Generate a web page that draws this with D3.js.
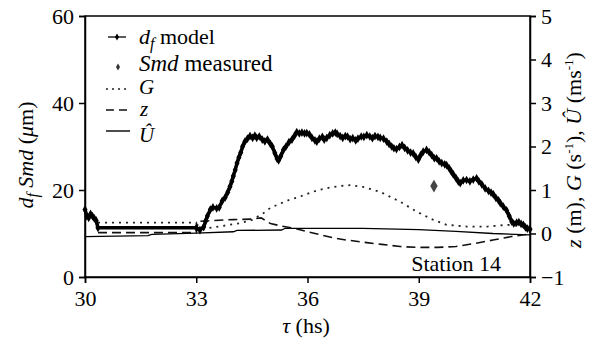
<!DOCTYPE html>
<html><head><meta charset="utf-8">
<script src="https://cdn.jsdelivr.net/npm/d3@7"></script>
<style>
body{margin:0;background:#fff;font-family:'Times New Roman';}
</style></head><body>
<svg id="chart" width="591" height="339" style="font-family:'Times New Roman'"></svg>
<script>
// ---- data ----
const xTicks = [30, 33, 36, 39, 42];
const leftTicks = [0, 20, 40, 60];
const rightTicks = [-1, 0, 1, 2, 3, 4, 5];

const dfTau = [30.00,30.05,30.10,30.15,30.20,30.25,30.30,30.35,33.00,33.10,33.20,33.25,33.30,33.38,33.45,33.55,33.62,33.70,33.78,33.85,33.91,33.96,34.00,34.05,34.10,34.15,34.20,34.25,34.31,34.38,34.45,34.52,34.58,34.63,34.70,34.78,34.85,34.92,35.00,35.05,35.12,35.18,35.22,35.28,35.35,35.42,35.50,35.58,35.65,35.71,35.78,35.85,35.92,35.98,36.05,36.12,36.20,36.25,36.32,36.40,36.45,36.52,36.60,36.68,36.75,36.80,36.88,36.95,37.02,37.08,37.15,37.22,37.30,37.36,37.45,37.52,37.60,37.68,37.75,37.82,37.90,37.96,38.05,38.14,38.20,38.27,38.33,38.40,38.48,38.55,38.62,38.70,38.78,38.85,38.92,38.99,39.05,39.12,39.21,39.28,39.35,39.42,39.48,39.55,39.62,39.70,39.75,39.82,39.88,39.93,40.00,40.07,40.12,40.20,40.29,40.38,40.47,40.56,40.62,40.70,40.79,40.88,40.95,41.01,41.08,41.15,41.20,41.28,41.37,41.44,41.51,41.56,41.64,41.70,41.76,41.82,41.88,41.93,42.00];
const dfVal = [15.5,14.0,13.6,14.5,14.0,13.5,13.0,11.3,11.3,10.8,11.5,12.8,14.0,15.5,16.0,15.8,16.0,17.5,18.3,19.5,20.8,22.0,23.2,24.6,26.2,27.5,28.6,30.0,31.1,31.8,32.4,32.0,32.5,32.0,32.3,31.6,31.2,31.6,30.6,30.0,28.5,27.2,26.8,27.8,29.2,30.0,31.0,31.6,32.5,33.3,33.0,33.2,33.0,33.1,32.8,32.0,31.4,31.1,31.8,32.2,31.6,32.0,32.6,33.0,33.2,32.9,32.4,32.0,32.4,32.3,31.7,31.9,31.4,31.8,32.3,32.2,32.6,32.3,31.9,32.4,32.2,32.0,31.8,31.1,30.6,30.0,29.6,29.4,29.9,30.3,29.7,29.1,28.6,28.4,27.6,27.0,28.0,28.8,29.2,28.7,28.0,27.3,27.3,26.6,26.2,25.9,25.7,25.0,24.2,23.6,22.8,21.9,21.6,22.2,22.3,22.0,22.4,22.7,22.0,21.3,20.4,19.8,19.4,19.0,18.2,17.6,17.0,16.2,15.3,14.0,12.7,12.3,12.5,12.6,12.2,12.0,11.4,11.1,11.0];

const smdTau = [39.41];
const smdVal = [20.9];

const gTau = [30.35,33.00,33.05,33.30,33.60,33.90,34.20,34.50,34.80,35.00,35.30,35.50,35.80,36.15,36.50,36.85,37.15,37.50,37.95,38.50,38.95,39.40,39.75,40.30,40.85,41.40,41.85,42.00];
const gVal = [0.25,0.25,0.05,0.12,0.16,0.20,0.24,0.31,0.46,0.59,0.70,0.77,0.85,0.96,1.04,1.09,1.11,1.07,0.96,0.73,0.50,0.31,0.20,0.16,0.16,0.20,0.16,0.16];

const zTau = [30.35,33.00,33.05,33.50,34.00,34.50,34.75,35.00,35.30,35.65,36.00,36.35,36.70,37.05,37.60,38.00,38.50,39.00,39.50,40.00,40.50,41.00,41.50,42.00];
const zVal = [0.02,0.02,0.28,0.30,0.32,0.33,0.36,0.23,0.17,0.12,0.04,-0.03,-0.10,-0.15,-0.21,-0.25,-0.30,-0.32,-0.32,-0.30,-0.23,-0.15,-0.07,-0.01];

const uTau = [30.00,31.70,31.80,33.00,34.00,34.10,35.30,35.40,37.50,39.00,40.00,41.00,42.00];
const uVal = [-0.07,-0.05,-0.02,0.01,0.04,0.07,0.08,0.12,0.12,0.09,0.05,0.00,-0.03];

// ---- layout ----
const svg = d3.select("#chart");
const L = 85, R = 530, T = 16, B = 277;
const x = d3.scaleLinear().domain([30, 42]).range([L, R]);
const yL = d3.scaleLinear().domain([0, 60]).range([B, T]);
const yR = d3.scaleLinear().domain([-1, 5]).range([B, T]);
const FS = 22;
const fstyle = (size, italic) => `font-family:'Times New Roman';font-size:${size}px;` + (italic ? "font-style:italic;" : "");

function txt(parent, size, italic) {
  return parent.append("text").attr("style", fstyle(size, italic)).attr("fill", "#000");
}
function span(t, s, size, italic) {
  return t.append("tspan").attr("style", fstyle(size, italic)).text(s);
}

// frame
svg.append("rect").attr("x", L).attr("y", T).attr("width", R - L).attr("height", B - T)
  .attr("fill", "none").attr("stroke", "#000").attr("stroke-width", 1.5);

// axes
const ax = svg.append("g").attr("transform", `translate(0,${B})`)
  .call(d3.axisBottom(x).tickValues(xTicks).tickSize(6).tickPadding(7).tickFormat(d3.format("d")));
const ay = svg.append("g").attr("transform", `translate(${L},0)`)
  .call(d3.axisLeft(yL).tickValues(leftTicks).tickSize(6).tickPadding(5).tickFormat(d3.format("d")));
const ayr = svg.append("g").attr("transform", `translate(${R},0)`)
  .call(d3.axisRight(yR).tickValues(rightTicks).tickSize(6).tickPadding(5).tickFormat(d3.format("d")));
[ax, ay, ayr].forEach(g => {
  g.attr("font-family", null).attr("font-size", null);
  g.select(".domain").attr("stroke", "#000").attr("stroke-width", 1.5);
  g.selectAll(".tick line").attr("stroke", "#000").attr("stroke-width", 1.5);
  g.selectAll(".tick text").attr("fill", "#000").attr("style", fstyle(FS, false));
});

// lines on right axis
const lineR = (tau, val) => d3.line().x((d, i) => x(tau[i])).y((d, i) => yR(val[i]))(val);
svg.append("path").attr("d", lineR(uTau, uVal)).attr("fill", "none").attr("stroke", "#000").attr("stroke-width", 1.3);
svg.append("path").attr("d", lineR(zTau, zVal)).attr("fill", "none").attr("stroke", "#111").attr("stroke-width", 1.6).attr("stroke-dasharray", "9,5");
svg.append("path").attr("d", lineR(gTau, gVal)).attr("fill", "none").attr("stroke", "#222").attr("stroke-width", 1.8).attr("stroke-dasharray", "2,5");

// df model
const dfLine = d3.line().x((d, i) => x(dfTau[i])).y((d, i) => yL(dfVal[i]));
svg.append("path").attr("d", dfLine(dfVal)).attr("fill", "none").attr("stroke", "#000").attr("stroke-width", 3.5).attr("stroke-linejoin", "round");
svg.append("g").selectAll("path").data(dfVal).join("path")
  .attr("d", d3.symbol().type(d3.symbolDiamond).size(22)())
  .attr("transform", (d, i) => `translate(${x(dfTau[i])},${yL(d)})`)
  .attr("fill", "#000");

// Smd measured
svg.append("g").selectAll("path").data(smdVal).join("path")
  .attr("d", d3.symbol().type(d3.symbolDiamond).size(48)())
  .attr("transform", (d, i) => `translate(${x(smdTau[i])},${yL(d)})`)
  .attr("fill", "#444");

// Station label
txt(svg, FS, false).attr("x", 501).attr("y", 271).attr("text-anchor", "end").text("Station 14");

// Legend
const lg = svg.append("g");
const lx0 = 106, lx1 = 130, tx = 139;
lg.append("line").attr("x1", lx0 + 2).attr("x2", lx1 - 4).attr("y1", 37).attr("y2", 37).attr("stroke", "#000").attr("stroke-width", 1.3);
lg.append("path").attr("d", d3.symbol().type(d3.symbolDiamond).size(14)()).attr("transform", `translate(117,37)`).attr("fill", "#000");
lg.append("path").attr("d", d3.symbol().type(d3.symbolDiamond).size(14)()).attr("transform", `translate(118,67)`).attr("fill", "#333");
lg.append("line").attr("x1", lx0).attr("x2", lx1).attr("y1", 89).attr("y2", 89).attr("stroke", "#222").attr("stroke-width", 1.6).attr("stroke-dasharray", "2,4");
lg.append("line").attr("x1", lx0).attr("x2", lx1).attr("y1", 110).attr("y2", 110).attr("stroke", "#111").attr("stroke-width", 1.5).attr("stroke-dasharray", "8,5");
lg.append("line").attr("x1", lx0).attr("x2", lx1).attr("y1", 131).attr("y2", 131).attr("stroke", "#000").attr("stroke-width", 1.4);

const t1 = txt(lg, FS, false).attr("x", tx).attr("y", 44);
span(t1, "d", FS, true);
span(t1, "f", 16, true).attr("dy", 5);
span(t1, " model", FS, false).attr("dy", -5);
const t2 = txt(lg, 23, false).attr("x", tx).attr("y", 71);
span(t2, "Smd", 23, true);
span(t2, " measured", 23, false);
txt(lg, 21, true).attr("x", tx).attr("y", 94).text("G");
txt(lg, 21, true).attr("x", tx + 1).attr("y", 116).text("z");
txt(lg, 21, true).attr("x", tx).attr("y", 142).text("Û");

// axis titles
const xt = txt(svg, FS, false).attr("x", 306).attr("y", 333).attr("text-anchor", "middle");
span(xt, "τ", FS, true);
span(xt, " (hs)", FS, false);

const lt = txt(svg, FS, false).attr("transform", "translate(33,155) rotate(-90)").attr("text-anchor", "middle");
span(lt, "d", FS, true);
span(lt, "f", 16, true).attr("dy", 5);
span(lt, " Smd", FS, true).attr("dy", -5);
span(lt, " (", FS, false);
span(lt, "μ", FS, true);
span(lt, "m)", FS, false);

const rt = txt(svg, FS, false).attr("transform", "translate(581,150) rotate(-90)").attr("text-anchor", "middle");
span(rt, "z", FS, true);
span(rt, " (m), ", FS, false);
span(rt, "G", FS, true);
span(rt, " (s", FS, false);
span(rt, "-1", 13, false).attr("dy", -8);
span(rt, "), ", FS, false).attr("dy", 8);
span(rt, "Û", FS, true);
span(rt, " (ms", FS, false);
span(rt, "-1", 13, false).attr("dy", -8);
span(rt, ")", FS, false).attr("dy", 8);
</script>
</body></html>
